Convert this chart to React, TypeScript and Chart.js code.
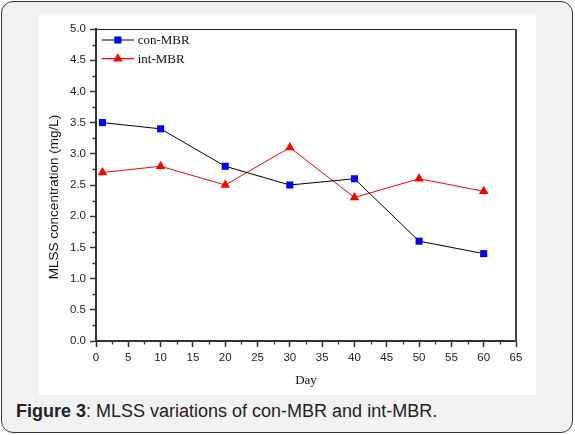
import React, { useEffect, useRef } from 'react';
import { Chart, registerables } from 'chart.js';

Chart.register(...registerables);

// ---- data ----
const days = [1, 10, 20, 30, 40, 50, 60];
const conMBR = [3.5, 3.4, 2.8, 2.5, 2.6, 1.6, 1.4];
const intMBR = [2.7, 2.8, 2.5, 3.1, 2.3, 2.6, 2.4];
const seriesLabels = ['con-MBR', 'int-MBR'];
const xTitle = 'Day';
const yTitle = 'MLSS concentration (mg/L)';
const captionBold = 'Figure 3';
const captionRest = ': MLSS variations of con-MBR and int-MBR.';

const X_MIN = 0, X_MAX = 65, X_STEP = 5;
const Y_MIN = 0, Y_MAX = 5, Y_STEP = 0.5;

const TICK_FONT = { family: '"Liberation Sans", Arial, sans-serif', size: 11.5 };

const minorTicksPlugin = {
  id: 'minorTicks',
  afterDraw(chart: any) {
    const { ctx, chartArea, scales } = chart;
    const x = scales.x, y = scales.y;
    ctx.save();
    ctx.strokeStyle = '#333';
    ctx.lineWidth = 1.3;
    ctx.beginPath();
    for (let v = X_MIN + X_STEP / 2; v < X_MAX; v += X_STEP) {
      const px = Math.round(x.getPixelForValue(v)) + 0.5;
      ctx.moveTo(px, chartArea.bottom);
      ctx.lineTo(px, chartArea.bottom + 3.5);
    }
    for (let v = Y_MIN + Y_STEP / 2; v < Y_MAX; v += Y_STEP) {
      const py = Math.round(y.getPixelForValue(v)) + 0.5;
      ctx.moveTo(chartArea.left, py);
      ctx.lineTo(chartArea.left - 3.5, py);
    }
    ctx.stroke();
    // top and right frame
    ctx.strokeStyle = '#222';
    ctx.lineWidth = 1.2;
    ctx.beginPath();
    ctx.moveTo(chartArea.left, chartArea.top + 0.5);
    ctx.lineTo(chartArea.right, chartArea.top + 0.5);
    ctx.stroke();
    ctx.strokeStyle = '#444';
    ctx.lineWidth = 2;
    ctx.beginPath();
    ctx.moveTo(chartArea.right, chartArea.top);
    ctx.lineTo(chartArea.right, chartArea.bottom);
    ctx.stroke();
    ctx.restore();
  },
};

const yTitlePlugin = {
  id: 'yTitle',
  afterDraw(chart: any) {
    const { ctx, chartArea } = chart;
    ctx.save();
    ctx.translate(15.5, (chartArea.top + chartArea.bottom) / 2 + 12);
    ctx.rotate(-Math.PI / 2);
    ctx.font = '13.5px "Liberation Sans", Arial, sans-serif';
    ctx.fillStyle = '#111';
    ctx.textAlign = 'center';
    ctx.textBaseline = 'middle';
    ctx.fillText(yTitle, 0, 0);
    ctx.restore();
  },
};

const legendPlugin = {
  id: 'innerLegend',
  afterDraw(chart: any) {
    const { ctx, chartArea } = chart;
    const x1 = chartArea.left + 5.7;
    const x2 = chartArea.left + 38;
    const xm = (x1 + x2) / 2;
    const tx = chartArea.left + 41.7;
    const rows = [chartArea.top + 11, chartArea.top + 29.7];
    chart.data.datasets.forEach((ds: any, i: number) => {
      const yy = rows[i];
      ctx.save();
      ctx.strokeStyle = ds.borderColor;
      ctx.lineWidth = 1.2;
      ctx.beginPath();
      ctx.moveTo(x1, yy);
      ctx.lineTo(x2, yy);
      ctx.stroke();
      ctx.fillStyle = ds.pointBackgroundColor;
      const r = ds.pointRadius;
      ctx.beginPath();
      if (ds.pointStyle === 'rect') {
        const s = Math.SQRT1_2 * r;
        ctx.rect(xm - s, yy - s, 2 * s, 2 * s);
      } else {
        ctx.moveTo(xm, yy - r);
        ctx.lineTo(xm + r * 0.866, yy + r / 2);
        ctx.lineTo(xm - r * 0.866, yy + r / 2);
        ctx.closePath();
      }
      ctx.fill();
      ctx.font = '13px "Liberation Serif", "Times New Roman", serif';
      ctx.fillStyle = '#111';
      ctx.textAlign = 'left';
      ctx.textBaseline = 'middle';
      ctx.fillText(ds.label, tx, yy + 0.5);
      ctx.restore();
    });
  },
};

export default function App() {
  const ref = useRef<HTMLCanvasElement | null>(null);

  useEffect(() => {
    if (!ref.current) return;
    const chart = new Chart(ref.current, {
      type: 'line',
      data: {
        datasets: [
          {
            label: seriesLabels[0],
            data: days.map((d, i) => ({ x: d, y: conMBR[i] })),
            borderColor: '#000000',
            borderWidth: 1,
            pointStyle: 'rect',
            pointRadius: 5,
            pointBackgroundColor: '#0000ff',
            pointBorderColor: '#0000ff',
            pointBorderWidth: 0,
            tension: 0,
          },
          {
            label: seriesLabels[1],
            data: days.map((d, i) => ({ x: d, y: intMBR[i] })),
            borderColor: '#ff0000',
            borderWidth: 1,
            pointStyle: 'triangle',
            pointRadius: 5.5,
            pointBackgroundColor: '#ff0000',
            pointBorderColor: '#ff0000',
            pointBorderWidth: 0,
            tension: 0,
          },
        ] as any,
      },
      options: {
        animation: false,
        responsive: false,
        devicePixelRatio: 1,
        layout: { padding: { left: 0, top: 15, right: 20, bottom: 0 } },
        plugins: { legend: { display: false }, tooltip: { enabled: false } },
        scales: {
          x: {
            type: 'linear',
            min: X_MIN,
            max: X_MAX,
            afterFit: (s: any) => { s.height = 54; },
            ticks: { stepSize: X_STEP, color: '#222', font: TICK_FONT, padding: 3.5, maxRotation: 0, autoSkip: false },
            grid: { drawOnChartArea: false, drawTicks: true, tickLength: 6, tickColor: '#333', tickWidth: 1.5 },
            border: { display: true, color: '#333', width: 2 },
            title: {
              display: true,
              text: xTitle,
              color: '#111',
              font: { family: '"Liberation Serif", "Times New Roman", serif', size: 13 },
              padding: { top: 0, bottom: 7 },
            },
          },
          y: {
            type: 'linear',
            min: Y_MIN,
            max: Y_MAX,
            afterFit: (s: any) => { s.width = 57; },
            ticks: {
              stepSize: Y_STEP,
              color: '#222',
              font: TICK_FONT,
              padding: 4,
              autoSkip: false,
              callback: (v: any) => Number(v).toFixed(1),
            },
            grid: { drawOnChartArea: false, drawTicks: true, tickLength: 6, tickColor: '#333', tickWidth: 1.5 },
            border: { display: true, color: '#333', width: 2 },
          },
        },
      } as any,
      plugins: [minorTicksPlugin, yTitlePlugin, legendPlugin],
    });
    return () => chart.destroy();
  }, []);

  return (
    <div style={{ position: 'fixed', left: 0, top: 0, width: 575, height: 435, background: '#ffffff', overflow: 'hidden' }}>
      <div
        style={{
          position: 'absolute', left: 1, top: 1, width: 572, height: 432, boxSizing: 'border-box',
          border: '1.5px solid #333', borderRadius: 12, background: '#f2f2f2',
        }}
      />
      <canvas
        ref={ref}
        width={497}
        height={381}
        style={{ position: 'absolute', left: 39, top: 14, width: 497, height: 381, background: '#ffffff' }}
      />
      <div
        style={{
          position: 'absolute', left: 16, top: 401, whiteSpace: 'nowrap', color: '#222',
          fontFamily: '"Liberation Sans", Arial, sans-serif', fontSize: 18, lineHeight: 'normal',
        }}
      >
        <b>{captionBold}</b>{captionRest}
      </div>
    </div>
  );
}
